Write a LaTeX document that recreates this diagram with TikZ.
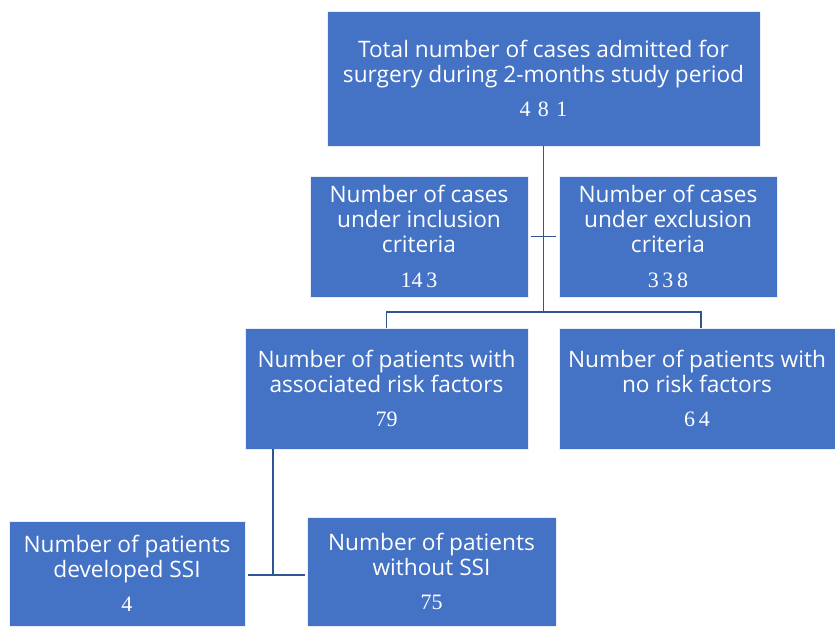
\documentclass[tikz,border=0pt]{standalone}
\usepackage{fontspec}
\usepackage{tikz}
\usetikzlibrary{positioning}
\setmainfont{Open Sans}
\newfontfamily\numfont{Liberation Serif}
\definecolor{boxblue}{HTML}{4472C4}
\definecolor{linkblue}{HTML}{2F5597}
\tikzset{
  flowbox/.style={draw=white!88!boxblue, line width=0.6pt, fill=boxblue, text=white, inner sep=0pt, align=center, font=\fontsize{17}{18.75}\selectfont},
  link/.style={draw=linkblue, line width=1.3pt}
}
\newcommand{\cnt}[1]{{\numfont\fontsize{16.5}{18}\selectfont #1}}

\begin{document}
\begin{tikzpicture}[x=0.75pt, y=-0.75pt]
  \useasboundingbox (0,0) rectangle (835,626);
  \node[flowbox, minimum width=324.75pt, minimum height=101.25pt] (total) at (543.5,78.5)
    {Total number of cases admitted for\\surgery during 2-months study period\\[7pt]\cnt{4\,\,8\,\,1}};
  \node[flowbox, minimum width=163.5pt, minimum height=90.75pt] (incl) at (419,236.5)
    {Number of cases\\under inclusion\\criteria\\[7pt]\cnt{14\,3}};
  \node[flowbox, minimum width=163.5pt, minimum height=90.75pt] (excl) at (668,236.5)
    {Number of cases\\under exclusion\\criteria\\[7pt]\cnt{3\,3\,8}};
  \node[flowbox, minimum width=212.25pt, minimum height=90.75pt] (risk) at (386.5,388.5)
    {Number of patients with\\associated risk factors\\[7pt]\cnt{79}};
  \node[flowbox, minimum width=207pt, minimum height=90.75pt] (norisk) at (697,388.5)
    {Number of patients with\\no risk factors\\[7pt]\cnt{6\,4}};
  \node[flowbox, minimum width=177pt, minimum height=78.75pt] (ssi) at (127,573.5)
    {Number of patients\\developed SSI\\[7pt]\cnt{4}};
  \node[flowbox, minimum width=186.75pt, minimum height=81.75pt] (nossi) at (431.5,571.5)
    {Number of patients\\without SSI\\[7pt]\cnt{75}};

  % branch points
  \coordinate (split) at (543.5,312);
  \coordinate (join) at (273,575);

  \draw[link] (total.south) -- (split);
  \draw[link] (risk.north) |- (split) -| ([xshift=3pt]norisk.north);
  \draw[link] ([xshift=2pt]incl.east) -- ([xshift=-2pt]excl.west);
  \draw[link] (join |- risk.south) -- (join);
  \draw[link] ([xshift=2pt]ssi.east |- join) -- ([xshift=-1pt]join -| nossi.west);
\end{tikzpicture}
\end{document}
